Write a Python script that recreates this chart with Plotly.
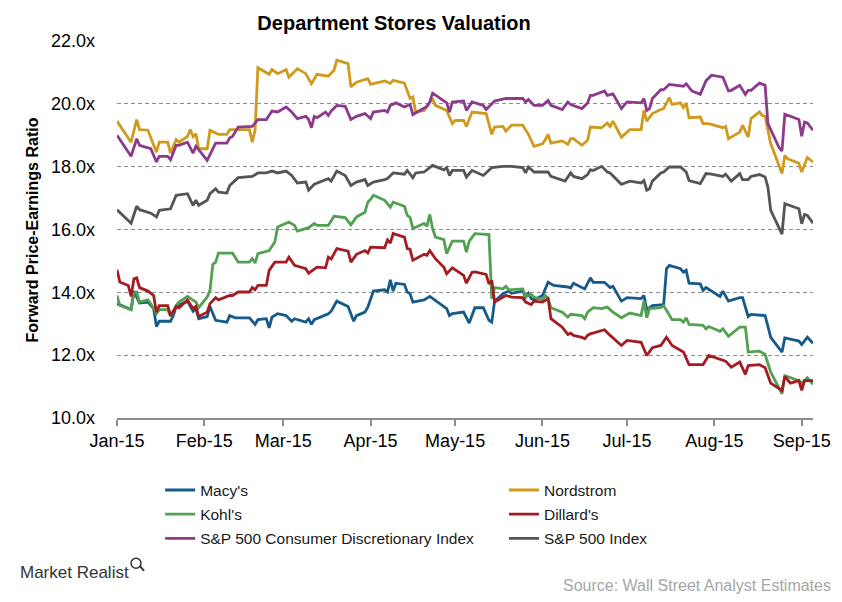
import plotly.graph_objects as go

YEAR = "2015"

macys_dates = ["01-01","01-06","01-07","01-09","01-12","01-14","01-15","01-16","01-20","01-21","01-22","01-26","01-28","01-29","01-30",
               "02-02","02-03","02-05","02-09","02-10","02-12","02-17","02-19","02-20","02-23","02-24","02-25","02-27",
               "03-02","03-04","03-05","03-09","03-10","03-11","03-12","03-17","03-18","03-20","03-24","03-26","03-27","03-30","03-31",
               "04-02","04-06","04-07","04-08","04-09","04-10","04-13","04-14","04-15","04-16","04-20","04-22","04-27","04-28","04-29","04-30",
               "05-04","05-06","05-08","05-11","05-13","05-14","05-15","05-18","05-20","05-21","05-25","05-26","05-27","05-28","05-29",
               "06-01","06-03","06-05","06-10","06-11","06-12","06-16","06-18","06-19","06-23","06-25","06-26","06-29",
               "07-01","07-06","07-07","07-08","07-10","07-14","07-15","07-16","07-20","07-21","07-22","07-23","07-27","07-28","07-29",
               "08-03","08-04","08-06","08-10","08-11","08-13","08-14","08-19","08-21","08-25","08-26","08-31",
               "09-01","09-03","09-05"]
macys_pe = [13.64,13.45,14.04,13.66,13.69,13.48,12.91,13.08,13.08,13.26,13.55,13.72,13.40,13.48,13.16,
            13.23,13.55,13.11,13.05,13.26,13.19,13.19,12.98,13.13,13.16,12.87,13.21,13.32,
            13.26,13.08,13.16,13.05,13.16,12.98,13.13,13.32,13.40,13.72,13.55,13.08,13.26,13.37,13.53,
            14.04,14.08,14.01,14.40,14.04,14.29,14.25,14.01,13.96,13.69,13.76,13.87,13.53,13.48,13.26,13.32,
            13.37,13.02,13.51,13.51,13.11,13.05,13.72,13.96,14.04,13.97,14.04,13.85,13.97,13.80,13.76,
            13.90,14.32,14.22,14.17,14.14,14.29,14.11,14.46,14.32,14.32,14.15,14.19,13.72,
            13.83,13.80,13.90,13.45,13.58,13.61,14.75,14.86,14.75,14.64,14.70,14.29,14.27,14.06,14.15,
            13.87,14.04,13.72,13.83,13.83,13.23,13.30,13.26,12.57,12.10,12.55,12.45,
            12.34,12.57,12.38]

nordstrom_dates = ["01-01","01-06","01-08","01-09","01-12","01-15","01-16","01-19","01-20","01-22","01-23","01-26","01-27","01-28","01-29","01-30",
                   "02-02","02-03","02-06","02-09","02-10","02-17","02-18","02-19","02-20","02-24","02-25","02-27",
                   "03-02","03-03","03-06","03-09","03-11","03-13","03-17","03-19","03-20","03-24","03-25","03-27","03-31",
                   "04-01","04-06","04-08","04-09","04-13","04-15","04-16","04-17","04-20","04-23","04-24","04-28","04-30",
                   "05-01","05-04","05-05","05-07","05-12","05-14","05-15","05-18","05-19","05-21","05-25","05-27","05-29",
                   "06-01","06-02","06-03","06-04","06-08","06-10","06-11","06-12","06-15","06-17","06-18","06-22","06-24","06-25","06-26","06-29",
                   "07-02","07-06","07-07","07-08","07-10","07-13","07-14","07-16","07-17","07-20","07-21","07-22","07-23","07-27","07-28","07-30",
                   "08-04","08-05","08-06","08-10","08-11","08-13","08-14","08-17","08-18","08-19","08-21","08-25","08-26","08-27","08-31",
                   "09-01","09-03","09-05"]
nordstrom_pe = [19.45,18.78,19.50,19.18,19.16,18.46,18.78,18.78,18.43,18.86,18.78,18.96,19.18,18.96,19.05,18.57,
                18.57,19.16,19.03,19.03,19.18,19.18,18.78,19.16,21.15,20.94,21.09,20.96,
                21.09,20.85,21.12,20.96,20.64,20.94,20.88,21.07,21.39,21.28,20.54,20.69,20.80,
                20.62,20.73,20.65,20.75,20.66,20.17,20.22,19.74,19.79,20.17,19.95,19.79,19.37,
                19.47,19.47,19.28,19.74,19.69,19.03,19.26,19.28,19.13,19.32,19.32,19.03,18.65,
                18.73,18.86,19.03,18.75,18.82,18.71,18.89,18.89,18.68,18.84,19.26,19.24,19.39,19.28,19.45,18.94,
                19.18,19.18,19.79,19.45,19.69,19.82,19.85,20.20,19.98,20.03,19.88,20.03,19.56,19.58,19.37,19.37,
                19.24,19.28,18.89,19.10,19.32,18.94,19.53,19.74,19.63,19.60,18.73,17.78,18.36,18.25,18.11,
                17.83,18.29,18.15]

kohls_dates = ["01-01","01-02","01-06","01-07","01-08","01-09","01-12","01-13","01-15","01-16","01-19","01-20","01-22","01-23","01-26","01-29","01-30",
               "02-02","02-03","02-04","02-05","02-06","02-11","02-13","02-17","02-18","02-19","02-20","02-24","02-26","02-27",
               "03-03","03-05","03-06","03-10","03-12","03-13","03-17","03-19","03-23","03-25","03-27","03-30","03-31",
               "04-01","04-02","04-03","04-06","04-08","04-09","04-13","04-14","04-15","04-16","04-20","04-21","04-22","04-23","04-24","04-27","04-28","04-30",
               "05-04","05-05","05-06","05-08","05-13","05-14","05-15","05-18","05-19","05-20","05-25","05-26","05-28","05-29",
               "06-01","06-02","06-03","06-04","06-08","06-10","06-11","06-15","06-16","06-17","06-19","06-22","06-24","06-26","06-29",
               "07-02","07-06","07-07","07-08","07-09","07-13","07-14","07-17","07-20","07-21","07-22","07-23","07-28","07-29","07-30",
               "08-03","08-04","08-06","08-10","08-12","08-13","08-17","08-19","08-21","08-25","08-26","08-31",
               "09-01","09-03","09-05"]
kohls_pe = [13.90,13.58,13.45,13.96,14.01,13.69,13.76,13.64,13.32,13.45,13.45,13.23,13.58,13.69,13.87,13.69,13.51,
            13.85,14.06,14.89,14.96,15.25,15.25,14.96,14.96,15.07,14.93,15.23,15.33,15.60,16.08,
            16.24,16.13,15.95,16.06,16.19,16.13,16.13,16.42,16.38,16.15,16.40,16.55,16.87,
            16.96,17.09,17.05,16.93,16.71,16.87,16.74,16.45,16.39,16.03,16.19,16.10,16.48,16.03,15.76,15.68,15.23,15.63,
            15.63,15.28,15.63,15.87,15.84,13.80,14.15,14.11,14.19,14.08,14.11,13.87,13.93,13.85,
            13.76,13.90,13.80,13.51,13.37,13.21,13.30,13.26,13.16,13.37,13.51,13.48,13.53,13.37,13.19,
            13.34,13.26,13.72,13.19,13.48,13.51,13.58,13.13,13.13,13.05,13.19,12.98,12.95,12.84,12.91,
            12.76,12.84,12.60,12.89,12.89,12.10,12.13,12.02,11.46,10.77,11.35,11.19,
            11.11,11.28,11.07]

dillards_dates = ["01-01","01-02","01-05","01-06","01-07","01-08","01-09","01-12","01-14","01-15","01-16","01-19","01-20","01-22","01-23","01-26","01-28","01-29","01-30",
                  "02-02","02-03","02-05","02-06","02-10","02-11","02-13","02-17","02-18","02-19","02-20","02-23","02-24","02-26",
                  "03-02","03-03","03-05","03-09","03-10","03-13","03-16","03-17","03-18","03-20","03-24","03-25","03-27","03-30","03-31",
                  "04-01","04-06","04-07","04-08","04-09","04-13","04-14","04-15","04-16","04-20","04-21","04-22","04-24","04-27","04-28","04-30",
                  "05-04","05-05","05-07","05-08","05-12","05-13","05-14","05-15","05-19","05-21","05-25","05-26","05-28","05-29",
                  "06-01","06-03","06-04","06-08","06-10","06-11","06-12","06-15","06-16","06-17","06-18","06-23","06-25","06-29",
                  "07-01","07-06","07-08","07-10","07-13","07-15","07-17","07-21","07-23","07-28","07-30",
                  "08-04","08-05","08-07","08-10","08-12","08-13","08-17","08-19","08-21","08-25","08-26","08-28","08-31",
                  "09-01","09-02","09-05"]
dillards_pe = [14.72,14.33,14.22,13.87,14.43,14.46,14.15,14.04,13.90,13.37,13.58,13.58,13.26,13.55,13.51,13.76,13.48,13.55,13.23,
               13.37,13.64,13.83,13.76,13.90,13.90,14.01,14.01,14.15,14.08,14.22,14.22,14.70,14.96,
               14.96,15.12,14.86,14.75,14.61,14.80,14.78,15.12,15.06,15.39,15.31,14.96,15.21,15.33,15.25,
               15.44,15.42,15.67,15.57,15.87,15.76,15.39,15.37,15.02,15.21,15.18,15.33,15.07,14.80,14.59,14.78,
               14.54,14.29,14.64,14.65,14.57,14.27,14.38,13.69,13.90,13.85,13.83,13.69,13.61,13.72,
               13.69,13.80,13.16,12.89,12.66,12.70,12.63,12.57,12.52,12.63,12.68,12.81,12.63,12.31,
               12.47,12.41,11.99,12.24,12.31,12.57,12.31,12.10,11.70,11.70,11.99,
               11.83,11.81,11.62,11.78,11.39,11.67,11.70,11.60,11.11,10.88,11.32,11.11,11.19,
               10.88,11.19,11.19]

discretionary_dates = ["01-01","01-06","01-08","01-09","01-13","01-15","01-16","01-19","01-20","01-22","01-23","01-26","01-28","01-29",
                       "02-02","02-04","02-05","02-09","02-10","02-11","02-13","02-18","02-20","02-23","02-25","02-27",
                       "03-02","03-04","03-06","03-09","03-10","03-11","03-12","03-13","03-16","03-17","03-18","03-20","03-23","03-25","03-27","03-30",
                       "04-01","04-02","04-06","04-07","04-08","04-10","04-13","04-15","04-16","04-21","04-22","04-23","04-27","04-28","04-29","04-30",
                       "05-04","05-05","05-07","05-08","05-11","05-12","05-15","05-19","05-25","05-26","05-27","05-29",
                       "06-01","06-03","06-04","06-08","06-10","06-11","06-15","06-17","06-18","06-19","06-23","06-24","06-26","06-29",
                       "07-01","07-06","07-07","07-08","07-09","07-10","07-13","07-14","07-16","07-21","07-22","07-24","07-27","07-29","07-31",
                       "08-04","08-06","08-07","08-10","08-12","08-13","08-14","08-17","08-19","08-20","08-24","08-25","08-26","08-31",
                       "09-01","09-02","09-03","09-05"]
discretionary_pe = [19.00,18.33,18.89,18.68,18.57,18.15,18.33,18.33,18.22,18.68,18.68,18.78,18.43,18.65,
                    18.20,18.57,18.75,18.75,18.92,18.96,19.26,19.28,19.50,19.50,19.77,19.74,
                    19.90,19.74,19.53,19.60,19.50,19.24,19.60,19.56,19.74,19.63,19.77,19.95,19.92,19.50,19.60,19.69,
                    19.53,19.74,19.79,19.74,19.95,20.03,19.90,19.98,19.66,19.92,20.06,20.34,20.09,20.03,19.74,20.06,
                    20.09,19.79,20.06,20.03,19.95,19.82,20.09,20.17,20.17,20.06,20.14,19.95,
                    19.95,20.11,19.95,19.82,20.06,19.98,19.85,20.03,20.27,20.27,20.41,20.27,20.32,19.85,
                    20.06,20.03,20.17,19.79,19.85,20.17,20.45,20.45,20.62,20.56,20.64,20.41,20.30,20.73,20.91,
                    20.85,20.41,20.43,20.59,20.30,20.43,20.43,20.66,20.59,19.37,18.60,18.50,19.67,19.50,
                    18.97,19.42,19.39,19.16]

sp500_dates = ["01-01","01-06","01-08","01-09","01-13","01-15","01-16","01-20","01-22","01-26","01-28","01-29","01-30",
               "02-02","02-03","02-05","02-06","02-09","02-10","02-13","02-18","02-20","02-23","02-25","02-27",
               "03-02","03-04","03-06","03-09","03-10","03-12","03-17","03-18","03-20","03-23","03-25","03-27","03-30","03-31",
               "04-02","04-06","04-07","04-09","04-13","04-14","04-16","04-17","04-20","04-23","04-27","04-28","04-29","04-30",
               "05-04","05-05","05-07","05-11","05-14","05-18","05-21","05-25","05-26","05-27","05-29",
               "06-03","06-04","06-09","06-11","06-12","06-15","06-17","06-18","06-19","06-22","06-24","06-25","06-29",
               "07-02","07-06","07-07","07-08","07-09","07-10","07-13","07-14","07-16","07-20","07-22","07-23","07-27","07-29","07-31",
               "08-04","08-05","08-07","08-10","08-11","08-13","08-14","08-17","08-19","08-20","08-21","08-25","08-26","08-31",
               "09-01","09-02","09-03","09-05"]
sp500_pe = [16.63,16.20,16.74,16.63,16.52,16.40,16.61,16.66,17.09,17.14,16.77,16.93,16.77,
            16.93,17.14,17.30,17.19,17.16,17.40,17.65,17.69,17.80,17.80,17.86,17.80,
            17.86,17.72,17.48,17.51,17.25,17.44,17.62,17.54,17.86,17.72,17.40,17.51,17.59,17.40,
            17.51,17.59,17.62,17.80,17.76,17.88,17.65,17.80,17.83,18.04,17.90,17.97,17.72,17.88,
            17.88,17.67,17.88,17.72,17.97,18.01,18.01,17.97,17.80,17.99,17.83,
            17.83,17.69,17.54,17.80,17.69,17.62,17.75,17.90,17.88,18.01,17.83,17.80,17.44,
            17.54,17.48,17.56,17.25,17.30,17.54,17.80,17.83,17.99,17.99,17.83,17.56,17.46,17.78,17.76,
            17.69,17.76,17.54,17.78,17.59,17.59,17.69,17.75,17.67,17.35,16.61,15.85,16.82,16.66,
            16.18,16.48,16.45,16.20]

series_names = ["Macy's", "Nordstrom", "Kohl's", "Dillard's",
                "S&P 500 Consumer Discretionary Index", "S&P 500 Index"]
series_dates = [macys_dates, nordstrom_dates, kohls_dates, dillards_dates, discretionary_dates, sp500_dates]
series_values = [macys_pe, nordstrom_pe, kohls_pe, dillards_pe, discretionary_pe, sp500_pe]
series_colors = ["#165a8a", "#cf9a1e", "#53a053", "#a41c22", "#8b3a8c", "#555555"]
series_legend = ["legend", "legend2", "legend", "legend2", "legend", "legend2"]

month_ticks = ["2015-01-01", "2015-02-01", "2015-03-01", "2015-04-01", "2015-05-01",
               "2015-06-01", "2015-07-01", "2015-08-01", "2015-09-01"]
month_labels = ["Jan-15", "Feb-15", "Mar-15", "Apr-15", "May-15", "Jun-15", "Jul-15", "Aug-15", "Sep-15"]

FONT = "Liberation Sans, Arial, sans-serif"
GRID = "#8c8c8c"

fig = go.Figure()
for name, d, v, c, lg in zip(series_names, series_dates, series_values, series_colors, series_legend):
    fig.add_trace(go.Scatter(
        x=[YEAR + "-" + s for s in d], y=v, mode="lines", name=name,
        line=dict(color=c, width=2.8), legend=lg, legendgroup=name,
    ))

fig.update_layout(
    width=842, height=602,
    margin=dict(l=117, r=29, t=41, b=184, autoexpand=False),
    paper_bgcolor="white", plot_bgcolor="white",
    font=dict(family=FONT, color="#000000"),
    title=dict(text="Department Stores Valuation", x=0.468, xref="container", xanchor="center",
               y=0.962, yref="container", yanchor="middle",
               font=dict(size=20, family=FONT, weight="bold", color="#000000")),
    xaxis=dict(type="date", range=["2015-01-01", "2015-09-05"],
               tickvals=month_ticks, ticktext=month_labels,
               showgrid=False, zeroline=False,
               showline=True, linecolor=GRID, linewidth=1.5,
               ticks="outside", ticklen=6, tickwidth=1.5, tickcolor=GRID,
               tickfont=dict(size=18, family=FONT, color="#000000")),
    yaxis=dict(range=[10, 22], dtick=2, tick0=10, tickformat=".1f", ticksuffix="x",
               showgrid=True, gridcolor=GRID, gridwidth=1, griddash="4px,3px",
               zeroline=False, showline=False, ticks="",
               ticklabelstandoff=21,
               tickfont=dict(size=18, family=FONT, color="#000000")),
    legend=dict(x=0.062, xanchor="left", y=-0.147, yanchor="top", orientation="v",
                bgcolor="rgba(0,0,0,0)", borderwidth=0, tracegroupgap=1,
                font=dict(size=15.5, family=FONT, color="#1a1a1a")),
    legend2=dict(x=0.556, xanchor="left", y=-0.147, yanchor="top", orientation="v",
                 bgcolor="rgba(0,0,0,0)", borderwidth=0, tracegroupgap=1,
                 font=dict(size=15.5, family=FONT, color="#1a1a1a")),
    showlegend=True,
)

fig.add_annotation(text="<b>Forward Price-Earnings Ratio</b>", textangle=-90,
                   xref="paper", yref="paper", x=-0.1207, y=0.5,
                   xanchor="center", yanchor="middle", showarrow=False,
                   font=dict(size=16, family=FONT, color="#000000"))
fig.add_annotation(text="Source: Wall Street Analyst Estimates",
                   xref="paper", yref="paper", x=1.0287, y=-0.4438,
                   xanchor="right", yanchor="middle", showarrow=False,
                   font=dict(size=16, family=FONT, color="#a6a6a6"))
fig.add_annotation(text="Market Realist",
                   xref="paper", yref="paper", x=-0.1422, y=-0.409,
                   xanchor="left", yanchor="middle", showarrow=False,
                   font=dict(size=17, family=FONT, color="#333333"))
# magnifier glyph of the logo
fig.add_shape(type="circle", xref="paper", yref="paper",
              x0=0.0201, x1=0.0345, y0=-0.3987, y1=-0.3721,
              line=dict(color="#333333", width=1.5))
fig.add_shape(type="line", xref="paper", yref="paper",
              x0=0.0324, x1=0.0388, y0=-0.3913, y1=-0.4058,
              line=dict(color="#333333", width=2))

fig.write_html("out.html", config={"displayModeBar": False},
               post_script="document.body.style.margin='0px';document.body.style.overflow='hidden';")
